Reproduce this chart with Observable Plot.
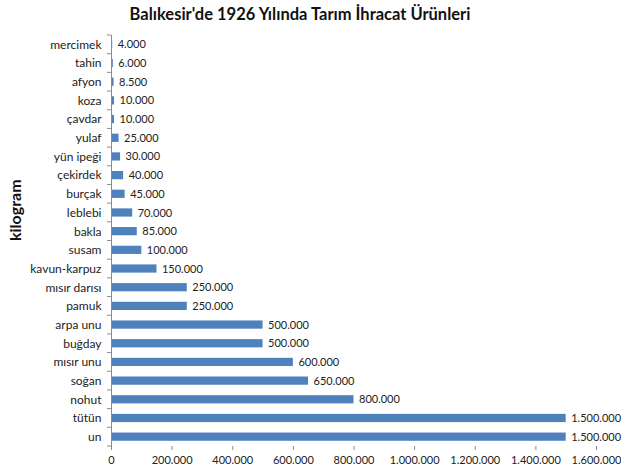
<!DOCTYPE html>
<html>
<head>
<meta charset="utf-8">
<script src="https://cdn.jsdelivr.net/npm/d3@7"></script>
<script src="https://cdn.jsdelivr.net/npm/@observablehq/plot@0.6"></script>
<style>
  html, body { margin: 0; padding: 0; background: #fff; }
  #title { font-family: Lato, "Open Sans", sans-serif; font-weight: bold; font-size: 16.5px; text-align: center; width: 600px; box-sizing: border-box; height: 28px; line-height: 28px; color: #111; }
  #chart svg { display: block; }
</style>
</head>
<body>
<div id="title">Balıkesir'de 1926 Yılında Tarım İhracat Ürünleri</div>
<div id="chart"></div>
<script>
const categories = ["mercimek","tahin","afyon","koza","çavdar","yulaf","yün ipeği","çekirdek","burçak","leblebi","bakla","susam","kavun-karpuz","mısır darısı","pamuk","arpa unu","buğday","mısır unu","soğan","nohut","tütün","un"];
const values = [4000,6000,8500,10000,10000,25000,30000,40000,45000,70000,85000,100000,150000,250000,250000,500000,500000,600000,650000,800000,1500000,1500000];
const xTicks = [0,200000,400000,600000,800000,1000000,1200000,1400000,1600000];
const yLabel = "kilogram";

const data = categories.map((c, i) => ({category: c, value: values[i]}));
const loc = d3.formatLocale({decimal: ",", thousands: ".", grouping: [3], currency: ["", ""]});
const fmt = loc.format(",");
const axisColor = "#8c8c8c";

// Excel-style tick marks between categories on the y axis
function yBoundaryTicks(index, scales, values, dimensions) {
  const g = d3.create("svg:g");
  const y = scales.y;
  const step = y.step();
  const x0 = scales.x(0);
  const dom = y.domain();
  const edges = dom.map(d => y(d) - (step - y.bandwidth()) / 2);
  edges.push(edges[edges.length - 1] + step);
  for (const e of edges) {
    g.append("line").attr("x1", x0 - 4).attr("x2", x0).attr("y1", e).attr("y2", e)
      .attr("stroke", axisColor).attr("stroke-width", 1);
  }
  return g.node();
}

const chart = Plot.plot({
  width: 621,
  height: 445,
  marginLeft: 111,
  marginRight: 25,
  marginTop: 7,
  marginBottom: 27,
  style: {fontFamily: "Lato, 'Open Sans', sans-serif", fontSize: "11px", color: "#222", background: "#fff"},
  x: {domain: [0, 1600000], ticks: xTicks, tickFormat: fmt, label: null},
  y: {domain: categories, paddingInner: 0.56, paddingOuter: 0.28, round: false, label: null},
  marks: [
    Plot.barX(data, {x: "value", y: "category", fill: "#4f81bd"}),
    Plot.text(data, {x: "value", y: "category", text: d => fmt(d.value), textAnchor: "start", dx: 5, fontSize: 11, fill: "#222"}),
    Plot.ruleX([0], {stroke: axisColor}),
    Plot.axisX({ticks: xTicks, tickFormat: fmt, tickSize: 4, stroke: axisColor, tickPadding: 6, fontSize: 11, label: null}),
    Plot.axisY({tickSize: 0, tickPadding: 10, fontSize: 12, label: null}),
    yBoundaryTicks,
    Plot.text([yLabel], {frameAnchor: "left", rotate: -90, dx: -96, fontWeight: "bold", fontSize: 16, fill: "#111"})
  ]
});

document.getElementById("chart").appendChild(chart);
</script>
</body>
</html>
